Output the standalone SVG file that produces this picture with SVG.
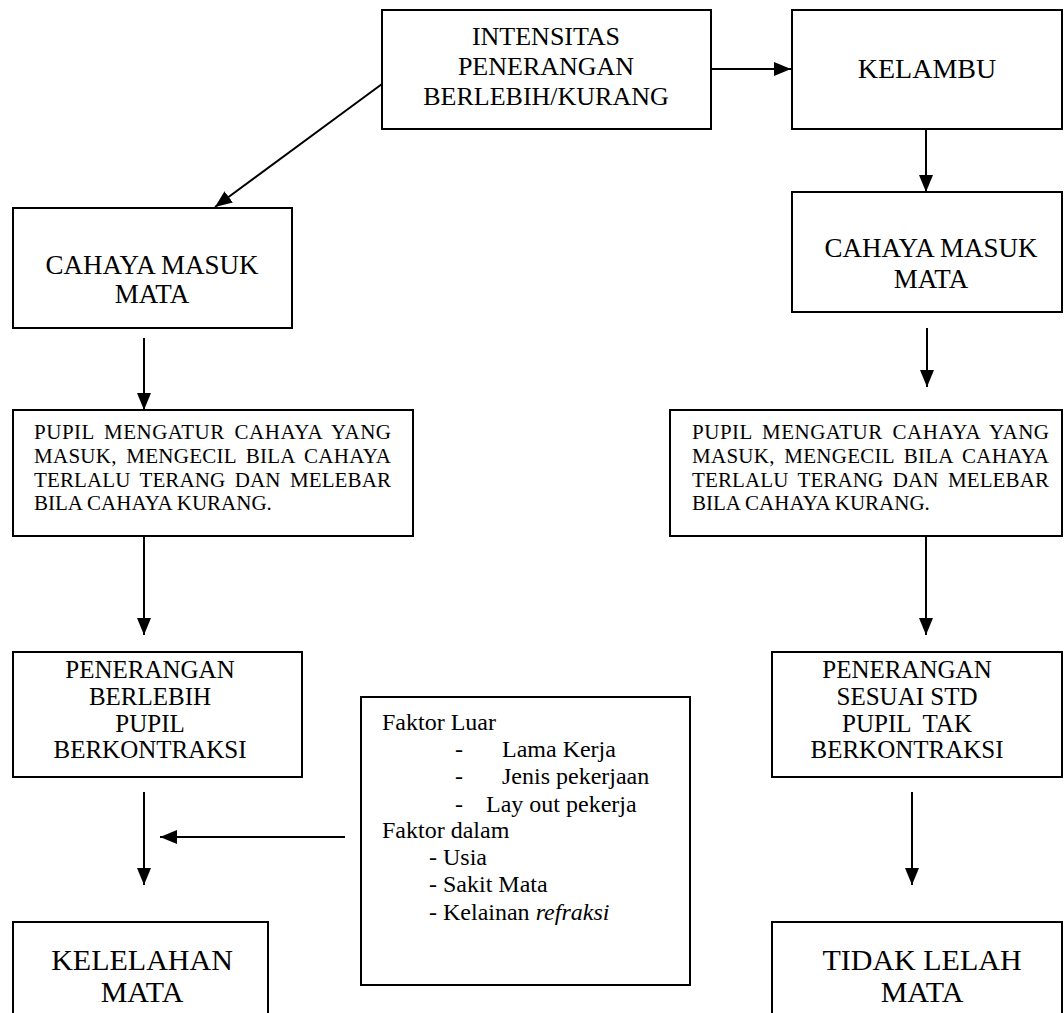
<svg xmlns="http://www.w3.org/2000/svg" width="1064" height="1013" viewBox="0 0 1064 1013">
<style>
.box{fill:#fff;stroke:#000;stroke-width:2}
.t{font-family:"Liberation Serif","Times New Roman",serif;fill:#000}
.c{text-anchor:middle}
.j{word-spacing:4px}
.conn{stroke:#000;stroke-width:2;fill:none;marker-end:url(#ah)}
</style>
<defs>
<marker id="ah" markerUnits="userSpaceOnUse" markerWidth="17" markerHeight="14" refX="17" refY="7" orient="auto">
<path d="M0,0 L17,7 L0,14 z" fill="#000"/>
</marker>
</defs>
<rect width="1064" height="1013" fill="#fff"/>
<g id="connectors">
<line class="conn" x1="382" y1="84" x2="215" y2="207"/>
<line class="conn" x1="711" y1="69" x2="791" y2="69"/>
<line class="conn" x1="926" y1="129" x2="926" y2="192"/>
<line class="conn" x1="144" y1="338" x2="144" y2="410"/>
<line class="conn" x1="927" y1="328" x2="927" y2="387"/>
<line class="conn" x1="144" y1="536" x2="144" y2="635"/>
<line class="conn" x1="926" y1="536" x2="926" y2="635"/>
<line class="conn" x1="144" y1="792" x2="144" y2="885"/>
<line class="conn" x1="345" y1="837" x2="160" y2="837"/>
<line class="conn" x1="912" y1="792" x2="912" y2="885"/>
</g>
<g id="n-intensitas">
<rect class="box" x="382" y="10" width="329" height="119"/>
<text class="t c" font-size="26" x="546" y="45">INTENSITAS</text>
<text class="t c" font-size="26" x="546" y="75">PENERANGAN</text>
<text class="t c" font-size="26" x="546" y="105">BERLEBIH/KURANG</text>
</g>
<g id="n-kelambu">
<rect class="box" x="792" y="10" width="270" height="119"/>
<text class="t c" font-size="28" x="927" y="78">KELAMBU</text>
</g>
<g id="n-cahaya-kanan">
<rect class="box" x="792" y="192" width="270" height="120"/>
<text class="t c" font-size="27" x="931" y="257">CAHAYA MASUK</text>
<text class="t c" font-size="27" x="931" y="288">MATA</text>
</g>
<g id="n-cahaya-kiri">
<rect class="box" x="13" y="208" width="279" height="120"/>
<text class="t c" font-size="27" x="152" y="274">CAHAYA MASUK</text>
<text class="t c" font-size="27" x="152" y="303">MATA</text>
</g>
<g id="n-pupil-kiri" class="t" font-size="21">
<rect class="box" x="13" y="410" width="400" height="126"/>
<text class="j" x="34" y="439" textLength="357" lengthAdjust="spacing">PUPIL MENGATUR CAHAYA YANG</text>
<text class="j" x="34" y="463" textLength="357" lengthAdjust="spacing">MASUK, MENGECIL BILA CAHAYA</text>
<text class="j" x="34" y="487" textLength="357" lengthAdjust="spacing">TERLALU TERANG DAN MELEBAR</text>
<text x="34" y="510">BILA CAHAYA KURANG.</text>
</g>
<g id="n-pupil-kanan" class="t" font-size="21">
<rect class="box" x="670" y="410" width="392" height="126"/>
<text class="j" x="692" y="439" textLength="357" lengthAdjust="spacing">PUPIL MENGATUR CAHAYA YANG</text>
<text class="j" x="692" y="463" textLength="357" lengthAdjust="spacing">MASUK, MENGECIL BILA CAHAYA</text>
<text class="j" x="692" y="487" textLength="357" lengthAdjust="spacing">TERLALU TERANG DAN MELEBAR</text>
<text x="692" y="510">BILA CAHAYA KURANG.</text>
</g>
<g id="n-penerangan-berlebih">
<rect class="box" x="13" y="652" width="289" height="125"/>
<text class="t c" font-size="25" x="150" y="678">PENERANGAN</text>
<text class="t c" font-size="25" x="150" y="705">BERLEBIH</text>
<text class="t c" font-size="25" x="150" y="732">PUPIL</text>
<text class="t c" font-size="25" x="150" y="758">BERKONTRAKSI</text>
</g>
<g id="n-penerangan-sesuai">
<rect class="box" x="772" y="652" width="290" height="125"/>
<text class="t c" font-size="25" x="907" y="678">PENERANGAN</text>
<text class="t c" font-size="25" x="907" y="705">SESUAI STD</text>
<text class="t c" font-size="25" x="907" y="732" xml:space="preserve">PUPIL  TAK</text>
<text class="t c" font-size="25" x="907" y="758">BERKONTRAKSI</text>
</g>
<g id="n-faktor" class="t" font-size="24">
<rect class="box" x="361" y="697" width="329" height="288"/>
<text x="382" y="730">Faktor Luar</text>
<text x="455" y="757">-</text><text x="502" y="757">Lama Kerja</text>
<text x="455" y="784">-</text><text x="502" y="784">Jenis pekerjaan</text>
<text x="455" y="812">-</text><text x="486" y="812">Lay out pekerja</text>
<text x="382" y="838">Faktor dalam</text>
<text x="429" y="865">- Usia</text>
<text x="429" y="892">- Sakit Mata</text>
<text x="429" y="920">- Kelainan <tspan font-style="italic">refraksi</tspan></text>
</g>
<g id="n-kelelahan">
<rect class="box" x="13" y="922" width="255" height="100"/>
<text class="t c" font-size="30" x="142" y="970">KELELAHAN</text>
<text class="t c" font-size="30" x="142" y="1002">MATA</text>
</g>
<g id="n-tidak-lelah">
<rect class="box" x="772" y="922" width="290" height="100"/>
<text class="t c" font-size="30" x="922" y="970">TIDAK LELAH</text>
<text class="t c" font-size="30" x="922" y="1002">MATA</text>
</g>
</svg>
